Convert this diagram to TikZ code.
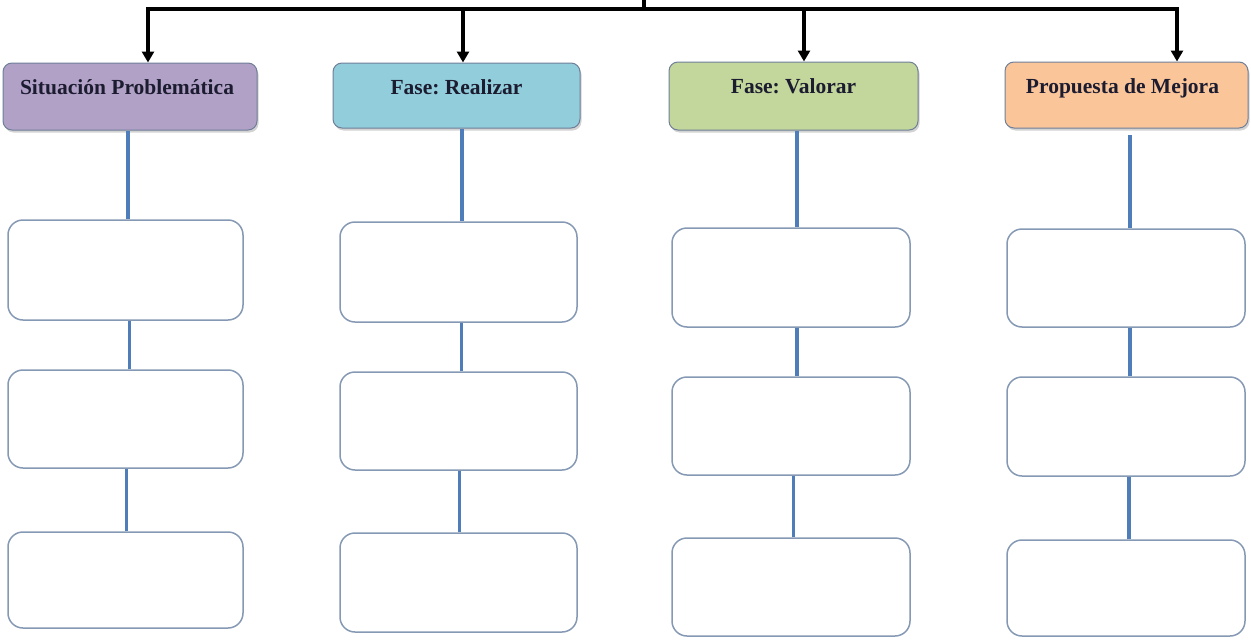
\documentclass[tikz,border=0pt]{standalone}
\usepackage{fontspec}
\setmainfont{Liberation Serif}
\frenchspacing
\usetikzlibrary{arrows.meta,shadows}
\definecolor{hpurple}{HTML}{B2A1C7}
\definecolor{hblue}{HTML}{92CDDC}
\definecolor{hgreen}{HTML}{C3D69B}
\definecolor{horange}{HTML}{FBC59A}
\definecolor{hborder}{HTML}{6F7F98}
\definecolor{bborder}{HTML}{8599B4}
\definecolor{blink}{HTML}{4F7DB9}
\definecolor{htext}{HTML}{1C1C30}
\tikzset{
  hdr/.style={draw=hborder, line width=1pt, rounded corners=9pt,
    minimum height=67pt, inner sep=0pt,
    drop shadow={shadow xshift=1.5pt, shadow yshift=-2.5pt, opacity=0.35, fill=gray}},
  hdrtext/.style={font=\bfseries\fontsize{21.5}{24}\selectfont, text=htext, inner sep=0pt, anchor=base},
  stage/.style={draw=bborder, line width=1.5pt, rounded corners=15pt, fill=white,
    minimum width=236pt, minimum height=99pt, inner sep=0pt},
  link/.style={draw=blink, line width=3.5pt},
  tree/.style={draw=black, line width=4pt},
  treearrow/.style={tree, -{Triangle[length=11pt,width=12pt]}}
}
\begin{document}
\begin{tikzpicture}[x=1pt,y=-1pt]
\useasboundingbox (0,0) rectangle (1251,640);
% headers
\node[hdr, fill=hpurple, minimum width=254pt] (h1) at (130,96.5) {};
\node[hdr, fill=hblue, minimum width=247pt, minimum height=65pt] (h2) at (456.5,95.5) {};
\node[hdr, fill=hgreen, minimum width=249pt, minimum height=68pt] (h3) at (793.5,96) {};
\node[hdr, fill=horange, minimum width=243pt, minimum height=66pt] (h4) at (1126.5,95) {};
\node[hdrtext] (t1) at ([yshift=-32pt,xshift=-3pt]h1.north) {Situación Problemática};
\node[hdrtext] (t2) at ([yshift=-32pt]h2.north) {Fase: Realizar};
\node[hdrtext] (t3) at ([yshift=-32pt]h3.north) {Fase: Valorar};
\node[hdrtext] (t4) at ([yshift=-32pt,xshift=-4pt]h4.north) {Propuesta de Mejora};
% boxes column 1
\node[stage, minimum width=235pt, minimum height=100pt] (b11) at (125.5,270) {};
\node[stage, minimum width=235pt, minimum height=98pt] (b12) at (125.5,419) {};
\node[stage, minimum width=235pt, minimum height=96pt] (b13) at (125.5,580) {};
% column 2
\node[stage, minimum width=237pt, minimum height=100pt] (b21) at (458.5,272) {};
\node[stage, minimum width=237pt, minimum height=98pt] (b22) at (458.5,421) {};
\node[stage, minimum width=237pt, minimum height=99pt] (b23) at (458.5,582.5) {};
% column 3
\node[stage, minimum width=238pt, minimum height=99pt] (b31) at (791,277.5) {};
\node[stage, minimum width=238pt, minimum height=98pt] (b32) at (791,426) {};
\node[stage, minimum width=238pt, minimum height=98pt] (b33) at (791,587) {};
% column 4
\node[stage, minimum width=238pt, minimum height=98pt] (b41) at (1126,278) {};
\node[stage, minimum width=238pt, minimum height=99pt] (b42) at (1126,426.5) {};
\node[stage, minimum width=238pt, minimum height=96pt] (b43) at (1126,588) {};
% blue links
\draw[link] ([xshift=2.5pt]b11.north) -- ([xshift=2.5pt]b11.north |- h1.south);
\draw[link] ([xshift=4pt]b12.north) -- ([xshift=4pt]b11.south);
\draw[link] ([xshift=1pt]b13.north) -- ([xshift=1pt]b12.south);
\draw[link] ([xshift=3.5pt]b21.north) -- ([xshift=3.5pt]b21.north |- h2.south);
\draw[link] ([xshift=3pt]b22.north) -- ([xshift=3pt]b21.south);
\draw[link] ([xshift=1pt]b23.north) -- ([xshift=1pt]b22.south);
\draw[link] ([xshift=6pt]b31.north) -- ([xshift=6pt]b31.north |- h3.south);
\draw[link] ([xshift=6pt]b32.north) -- ([xshift=6pt]b31.south);
\draw[link] ([xshift=2.5pt]b33.north) -- ([xshift=2.5pt]b32.south);
\draw[link] ([xshift=4pt]b41.north) -- ([xshift=4pt,yshift=-6pt]b41.north |- h4.south);
\draw[link] ([xshift=4pt]b42.north) -- ([xshift=4pt]b41.south);
\draw[link] ([xshift=3pt]b43.north) -- ([xshift=3pt]b42.south);
% top tree
\coordinate (top) at (644,0);
\coordinate (a1) at (148,9);
\coordinate (a2) at (463,9);
\coordinate (a3) at (804,9);
\coordinate (a4) at (1177,9);
\draw[tree] (top) -- (top |- a1);
\draw[tree, line cap=rect] (a1) -- (a4);
\draw[treearrow] (a1) -- (a1 |- h1.north);
\draw[treearrow] (a2) -- (a2 |- h2.north);
\draw[treearrow] (a3) -- (a3 |- h3.north);
\draw[treearrow] (a4) -- (a4 |- h4.north);
\end{tikzpicture}
\end{document}
